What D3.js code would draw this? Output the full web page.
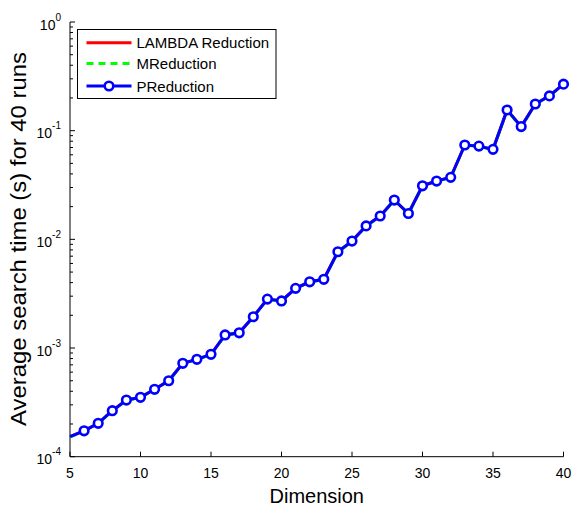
<!DOCTYPE html>
<html>
<head>
<meta charset="utf-8">
<script src="https://cdn.jsdelivr.net/npm/d3@7"></script>
<style>
  body { margin: 0; background: #fff; }
  text { font-family: "Liberation Sans", Arial, sans-serif; fill: #000; }
</style>
</head>
<body>
<div id="chart"></div>
<script>
// data
var dimensions = d3.range(5, 41);
var lambdaTimes = [1.53e-4, 1.73e-4, 2.03e-4, 2.65e-4, 3.32e-4, 3.52e-4, 4.17e-4, 5.0e-4,
  7.23e-4, 7.87e-4, 8.75e-4, 1.32e-3, 1.38e-3, 1.94e-3, 2.82e-3, 2.71e-3, 3.54e-3, 4.07e-3,
  4.29e-3, 7.69e-3, 9.64e-3, 1.33e-2, 1.64e-2, 2.30e-2, 1.73e-2, 3.11e-2, 3.44e-2, 3.72e-2,
  7.38e-2, 7.21e-2, 6.73e-2, 0.155, 0.109, 0.176, 0.209, 0.268];
var mTimes = [1.52e-4, 1.72e-4, 2.02e-4, 2.64e-4, 3.30e-4, 3.51e-4, 4.15e-4, 4.98e-4,
  7.20e-4, 7.85e-4, 8.72e-4, 1.31e-3, 1.37e-3, 1.93e-3, 2.81e-3, 2.70e-3, 3.52e-3, 4.05e-3,
  4.27e-3, 7.66e-3, 9.60e-3, 1.32e-2, 1.63e-2, 2.29e-2, 1.72e-2, 3.10e-2, 3.43e-2, 3.70e-2,
  7.35e-2, 7.18e-2, 6.70e-2, 0.154, 0.108, 0.175, 0.208, 0.267];
var pTimes = [1.53e-4, 1.73e-4, 2.03e-4, 2.65e-4, 3.32e-4, 3.52e-4, 4.17e-4, 5.0e-4,
  7.23e-4, 7.87e-4, 8.75e-4, 1.32e-3, 1.38e-3, 1.94e-3, 2.82e-3, 2.71e-3, 3.54e-3, 4.07e-3,
  4.29e-3, 7.69e-3, 9.64e-3, 1.33e-2, 1.64e-2, 2.30e-2, 1.73e-2, 3.11e-2, 3.44e-2, 3.72e-2,
  7.38e-2, 7.21e-2, 6.73e-2, 0.155, 0.109, 0.176, 0.209, 0.268];
var seriesNames = ["LAMBDA Reduction", "MReduction", "PReduction"];
var xTicks = [5, 10, 15, 20, 25, 30, 35, 40];
var yExponents = [-4, -3, -2, -1, 0];

var svgWidth = 572;
var svgHeight = 512;
var margin = { top: 22, right: 8.5, bottom: 55.3, left: 70 };
var width = svgWidth - margin.left - margin.right;
var height = svgHeight - margin.top - margin.bottom;

var svg = d3.select("#chart").append("svg")
  .attr("width", svgWidth)
  .attr("height", svgHeight);

var chartGroup = svg.append("g")
  .attr("transform", `translate(${margin.left}, ${margin.top})`);

var xScale = d3.scaleLinear().domain([5, 40]).range([0, width]);
var yScale = d3.scaleLog().domain([1e-4, 1]).range([height, 0]);

// axes: only left and bottom, ticks pointing inward
var minorTicks = [];
yExponents.slice(0, -1).forEach(function(e) {
  for (var k = 2; k < 10; k++) minorTicks.push(k * Math.pow(10, e));
});

var axisG = chartGroup.append("g");
axisG.append("line")
  .attr("x1", 0).attr("x2", 0).attr("y1", 0).attr("y2", height)
  .attr("stroke", "#000").attr("stroke-width", 1);
axisG.append("line")
  .attr("x1", 0).attr("x2", width).attr("y1", height).attr("y2", height)
  .attr("stroke", "#000").attr("stroke-width", 1);

axisG.selectAll(".xtick").data(xTicks).enter().append("line")
  .attr("x1", d => xScale(d)).attr("x2", d => xScale(d))
  .attr("y1", height).attr("y2", height - 5)
  .attr("stroke", "#000");

axisG.selectAll(".ytick").data(yExponents).enter().append("line")
  .attr("x1", 0).attr("x2", 5)
  .attr("y1", d => yScale(Math.pow(10, d))).attr("y2", d => yScale(Math.pow(10, d)))
  .attr("stroke", "#000");

axisG.selectAll(".yminor").data(minorTicks).enter().append("line")
  .attr("x1", 0).attr("x2", 3)
  .attr("y1", d => yScale(d)).attr("y2", d => yScale(d))
  .attr("stroke", "#000");

// tick labels
chartGroup.selectAll(".xlabel").data(xTicks).enter().append("text")
  .attr("x", d => xScale(d))
  .attr("y", height + 21.5)
  .attr("text-anchor", "middle")
  .attr("font-size", "14px")
  .text(d => d);

var yLab = chartGroup.selectAll(".ylabel").data(yExponents).enter().append("text")
  .attr("x", -9)
  .attr("y", d => yScale(Math.pow(10, d)) + 7.5)
  .attr("text-anchor", "end")
  .attr("font-size", "14px");
yLab.append("tspan").text("10");
yLab.append("tspan")
  .attr("dy", -9)
  .attr("font-size", "10px")
  .text(d => d);

// lines
var line = d3.line()
  .x(d => xScale(d[0]))
  .y(d => yScale(d[1]));

var series = [
  { name: seriesNames[0], values: lambdaTimes, color: "#ff0000", dash: null },
  { name: seriesNames[1], values: mTimes, color: "#00ff00", dash: "7,5" },
  { name: seriesNames[2], values: pTimes, color: "#0000ff", dash: null }
];

series.forEach(function(s) {
  chartGroup.append("path")
    .datum(dimensions.map((d, i) => [d, s.values[i]]))
    .attr("d", line)
    .attr("fill", "none")
    .attr("stroke", s.color)
    .attr("stroke-width", 3)
    .attr("stroke-dasharray", s.dash);
});

chartGroup.selectAll(".marker")
  .data(dimensions.map((d, i) => [d, pTimes[i]]).filter(d => d[0] > 5))
  .enter().append("circle")
  .attr("cx", d => xScale(d[0]))
  .attr("cy", d => yScale(d[1]))
  .attr("r", 4.3)
  .attr("fill", "#fff")
  .attr("stroke", "#0000ff")
  .attr("stroke-width", 2.6);

// axis titles
chartGroup.append("text")
  .attr("x", width / 2)
  .attr("y", height + 46)
  .attr("text-anchor", "middle")
  .attr("font-size", "20px")
  .text("Dimension");

chartGroup.append("text")
  .attr("transform", "rotate(-90)")
  .attr("x", -(239 - margin.top))
  .attr("y", 26 - margin.left)
  .attr("text-anchor", "middle")
  .attr("font-size", "22px")
  .attr("textLength", 374)
  .attr("lengthAdjust", "spacingAndGlyphs")
  .text("Average search time (s) for 40 runs");

// legend
var legend = svg.append("g").attr("transform", "translate(77.5, 29.5)");
legend.append("rect")
  .attr("width", 198.5).attr("height", 69)
  .attr("fill", "#fff").attr("stroke", "#000").attr("stroke-width", 1);

var legendRows = legend.selectAll(".row").data(series).enter().append("g")
  .attr("transform", (d, i) => `translate(0, ${[13.2, 34, 56.5][i]})`);

legendRows.append("line")
  .attr("x1", 9).attr("x2", 54)
  .attr("stroke", d => d.color)
  .attr("stroke-width", 3)
  .attr("stroke-dasharray", d => d.dash);

legendRows.filter(d => d.name === "PReduction").append("circle")
  .attr("cx", 31.5).attr("r", 4.3)
  .attr("fill", "#fff").attr("stroke", "#0000ff").attr("stroke-width", 2.6);

legendRows.append("text")
  .attr("x", 59)
  .attr("y", 5.5)
  .attr("font-size", "15px")
  .text(d => d.name);
</script>
</body>
</html>
